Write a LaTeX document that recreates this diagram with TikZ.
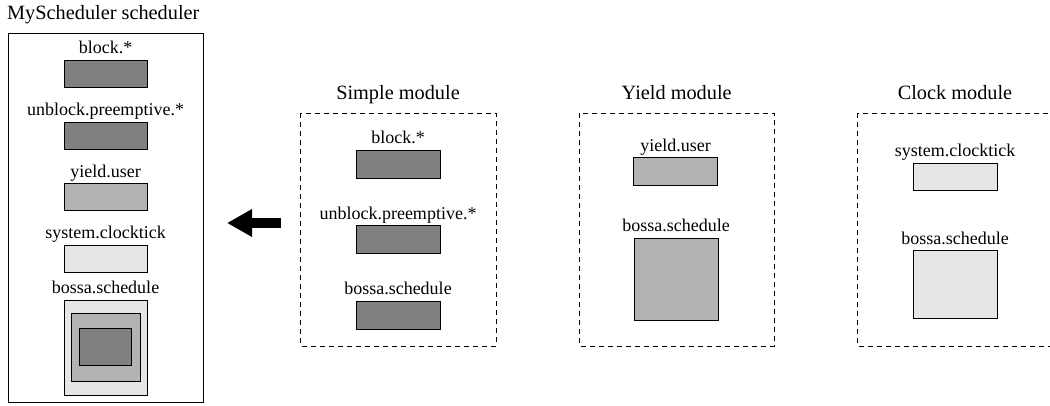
\documentclass[tikz,border=0pt]{standalone}
\usepackage{fontspec}
\setmainfont{Liberation Serif}
\usetikzlibrary{calc,arrows.meta}
\definecolor{dkg}{HTML}{808080}
\definecolor{mdg}{HTML}{B3B3B3}
\definecolor{ltg}{HTML}{E6E6E6}
\tikzset{
  evbox/.style={draw=black, line width=0.9pt, inner sep=0pt, minimum width=83pt, minimum height=27pt},
  dk/.style={evbox, fill=dkg},
  md/.style={evbox, fill=mdg},
  lt/.style={evbox, fill=ltg},
  lab/.style={font=\fontsize{18}{21}\selectfont, inner sep=0pt, anchor=base},
  ttl/.style={font=\fontsize{20.3}{24}\selectfont, inner sep=0pt, anchor=base},
  modbox/.style={draw=black, line width=0.8pt, dash pattern=on 5pt off 4pt},
  fatarrow/.style={line width=10pt, -{Triangle[length=25pt,width=26pt]}}
}
\begin{document}
\begin{tikzpicture}[x=1pt,y=-1pt]
\useasboundingbox (0,0) rectangle (1050,405);
\clip (0,0) rectangle (1050,405);
\fill[white] (0,0) rectangle (1050,405);

% Left panel
\node[ttl, anchor=base west] (schedtitle) at (7,19.3) {MyScheduler scheduler};
\draw[line width=1pt] (8,33) rectangle (203,402);
\node[dk] (lb1) at (105.5,73.5) {};
\node[lab] (lb1t) at ($(lb1.north)+(0,-6)$) {block.*};
\node[dk] (lb2) at (105.5,135.5) {};
\node[lab] (lb2t) at ($(lb2.north)+(0,-6)$) {unblock.preemptive.*};
\node[md] (lb3) at (105.5,197) {};
\node[lab] (lb3t) at ($(lb3.north)+(0,-6)$) {yield.user};
\node[lt] (lb4) at (105.5,258.5) {};
\node[lab] (lb4t) at ($(lb4.north)+(0,-6)$) {system.clocktick};
\node[lt, minimum height=95pt] (lb5) at (105.5,347.5) {};
\node[lab] (lb5t) at ($(lb5.north)+(0,-6)$) {bossa.schedule};
\node[md, minimum width=69pt, minimum height=68pt] (lb5m) at (105.5,347) {};
\node[dk, minimum width=52pt, minimum height=37pt] (lb5i) at (105,346.5) {};

% Arrow
\coordinate (arrS) at (281,223);
\coordinate (arrE) at (227,223);
\draw[fatarrow] (arrS) -- (arrE);

% Simple module
\node[ttl] (simpt) at (398,99.7) {Simple module};
\draw[modbox] (300.7,113.3) rectangle (496,346);
\node[dk, minimum width=84pt, minimum height=28pt] (s1) at (398,164) {};
\node[lab] (s1t) at ($(s1.north)+(0,-6)$) {block.*};
\node[dk, minimum width=84pt, minimum height=28pt] (s2) at (398,239.5) {};
\node[lab] (s2t) at ($(s2.north)+(0,-6)$) {unblock.preemptive.*};
\node[dk, minimum width=84pt, minimum height=28pt] (s3) at (398,315) {};
\node[lab] (s3t) at ($(s3.north)+(0,-6)$) {bossa.schedule};

% Yield module
\node[ttl] (yieldt) at (676.7,99.7) {Yield module};
\draw[modbox] (579.3,113.3) rectangle (774,346);
\node[md, minimum width=84pt, minimum height=27.5pt] (y1) at (675.5,171.3) {};
\node[lab] (y1t) at ($(y1.north)+(0,-6)$) {yield.user};
\node[md, minimum width=84pt, minimum height=82pt] (y2) at (676,279) {};
\node[lab] (y2t) at ($(y2.north)+(0,-6)$) {bossa.schedule};

% Clock module
\node[ttl] (clockt) at (955,99.7) {Clock module};
\draw[modbox] (857.3,113.3) rectangle (1053,346);
\node[lt, minimum width=84pt, minimum height=27pt] (c1) at (955,176.7) {};
\node[lab] (c1t) at ($(c1.north)+(0,-6)$) {system.clocktick};
\node[lt, minimum width=84pt, minimum height=68pt] (c2) at (955,284.7) {};
\node[lab] (c2t) at ($(c2.north)+(0,-6)$) {bossa.schedule};
\end{tikzpicture}
\end{document}
